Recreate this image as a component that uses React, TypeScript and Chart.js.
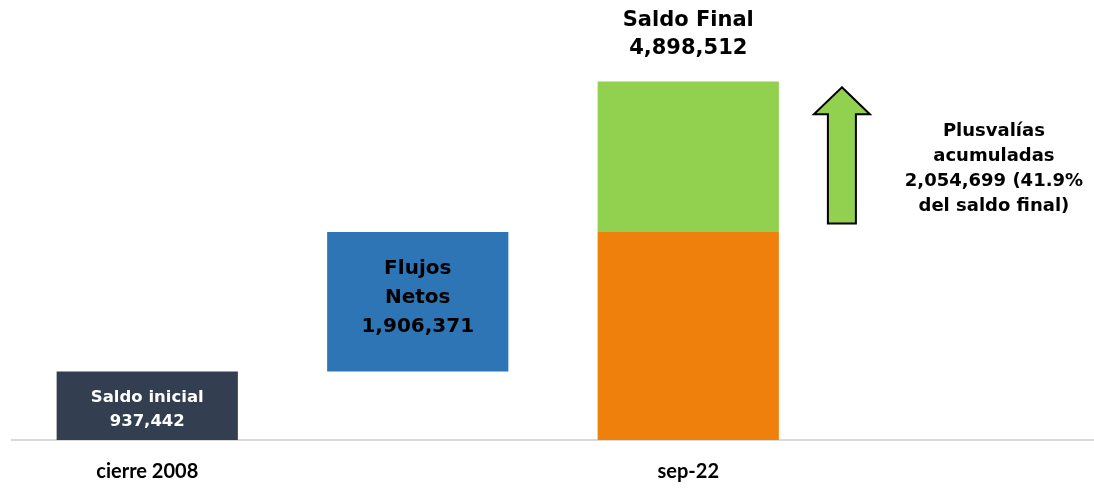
import React, { useEffect, useRef } from "react";
import { Chart, registerables } from "chart.js";

Chart.register(...registerables);

const categories = ["cierre 2008", "", "sep-22", ""];
const saldoInicial = 937442;
const flujosNetos = 1906371;
const plusvalias = 2054699;
const saldoFinal = 4898512;

const saldoInicialData = [[0, saldoInicial], null, null, null];
const flujosData = [null, [saldoInicial, saldoInicial + flujosNetos], null, null];
const baseFinalData = [null, null, [0, saldoInicial + flujosNetos], null];
const plusvaliasData = [null, null, [saldoFinal - plusvalias, saldoFinal], null];

const labelSaldoInicial = ["Saldo inicial", "937,442"];
const labelFlujos = ["Flujos", "Netos", "1,906,371"];
const labelFinal = ["Saldo Final", "4,898,512"];
const labelPlusvalias = ["Plusvalías", "acumuladas", "2,054,699 (41.9%", "del saldo final)"];

const FONT = "'DejaVu Sans', sans-serif";

const overlayPlugin = {
  id: "overlay",
  afterDatasetsDraw(chart: any) {
    const ctx = chart.ctx;
    const x = chart.scales.x;
    const y = chart.scales.y;
    const catW = x.getPixelForValue(1) - x.getPixelForValue(0);

    const drawLines = (lines: string[], cx: number, cy: number, size: number, gap: number, color: string) => {
      ctx.save();
      ctx.fillStyle = color;
      ctx.font = `bold ${size}px ${FONT}`;
      ctx.textAlign = "center";
      ctx.textBaseline = "middle";
      const start = cy - ((lines.length - 1) * gap) / 2;
      lines.forEach((l, i) => ctx.fillText(l, cx, start + i * gap));
      ctx.restore();
    };

    const b0 = chart.getDatasetMeta(0).data[0];
    drawLines(labelSaldoInicial, b0.x, (b0.y + b0.base) / 2 + 4, 16.5, 24, "#ffffff");
    const b1 = chart.getDatasetMeta(1).data[1];
    drawLines(labelFlujos, b1.x, (b1.y + b1.base) / 2 - 4, 20, 29, "#000000");
    const b3 = chart.getDatasetMeta(3).data[2];
    drawLines(labelFinal, b3.x, b3.y - 47, 21, 28, "#000000");

    // Arrow
    const ax = x.getPixelForValue(2) + 0.568 * catW;
    const yTop = y.getPixelForValue(4820000);
    const yBot = y.getPixelForValue(2960000);
    const headW = 28, shaftW = 14, headH = 27;
    ctx.save();
    ctx.beginPath();
    ctx.moveTo(ax, yTop);
    ctx.lineTo(ax + headW, yTop + headH);
    ctx.lineTo(ax + shaftW, yTop + headH);
    ctx.lineTo(ax + shaftW, yBot);
    ctx.lineTo(ax - shaftW, yBot);
    ctx.lineTo(ax - shaftW, yTop + headH);
    ctx.lineTo(ax - headW, yTop + headH);
    ctx.closePath();
    ctx.fillStyle = "#92D050";
    ctx.fill();
    ctx.lineWidth = 2;
    ctx.strokeStyle = "#000000";
    ctx.lineJoin = "miter";
    ctx.stroke();
    ctx.restore();

    const tx = x.getPixelForValue(2) + 1.13 * catW;
    drawLines(labelPlusvalias, tx, y.getPixelForValue(3700000), 18, 25, "#000000");
  },
};

export default function App() {
  const ref = useRef<HTMLCanvasElement>(null);
  useEffect(() => {
    if (!ref.current) return;
    const chart = new Chart(ref.current, {
      type: "bar",
      data: {
        labels: categories,
        datasets: [
          { label: "Saldo inicial", data: saldoInicialData as any, backgroundColor: "#333F50" },
          { label: "Flujos Netos", data: flujosData as any, backgroundColor: "#2E75B6" },
          { label: "Base", data: baseFinalData as any, backgroundColor: "#F0800C" },
          { label: "Plusvalías", data: plusvaliasData as any, backgroundColor: "#92D050" },
        ],
      },
      options: {
        animation: false,
        responsive: true,
        maintainAspectRatio: false,
        layout: { padding: { left: 12, right: -3, top: 1, bottom: 0 } },
        datasets: { bar: { categoryPercentage: 1, barPercentage: 0.67, grouped: false } },
        plugins: { legend: { display: false }, tooltip: { enabled: false } },
        scales: {
          x: {
            grid: { display: false, drawTicks: false },
            border: { color: "#d9d9d9", width: 2 },
            ticks: {
              color: "#000000",
              padding: 20,
              font: { family: "Lato, 'Open Sans', sans-serif", size: 20, weight: "bold" },
            },
            afterFit: (scale: any) => {
              scale.height = 49;
            },
          },
          y: { display: false, min: 0, max: 6000000 },
        },
      },
      plugins: [overlayPlugin],
    });
    return () => chart.destroy();
  }, []);
  return (
    <div style={{ position: "absolute", left: 0, top: 0, width: 1094, height: 489 }}>
      <canvas ref={ref} />
    </div>
  );
}
